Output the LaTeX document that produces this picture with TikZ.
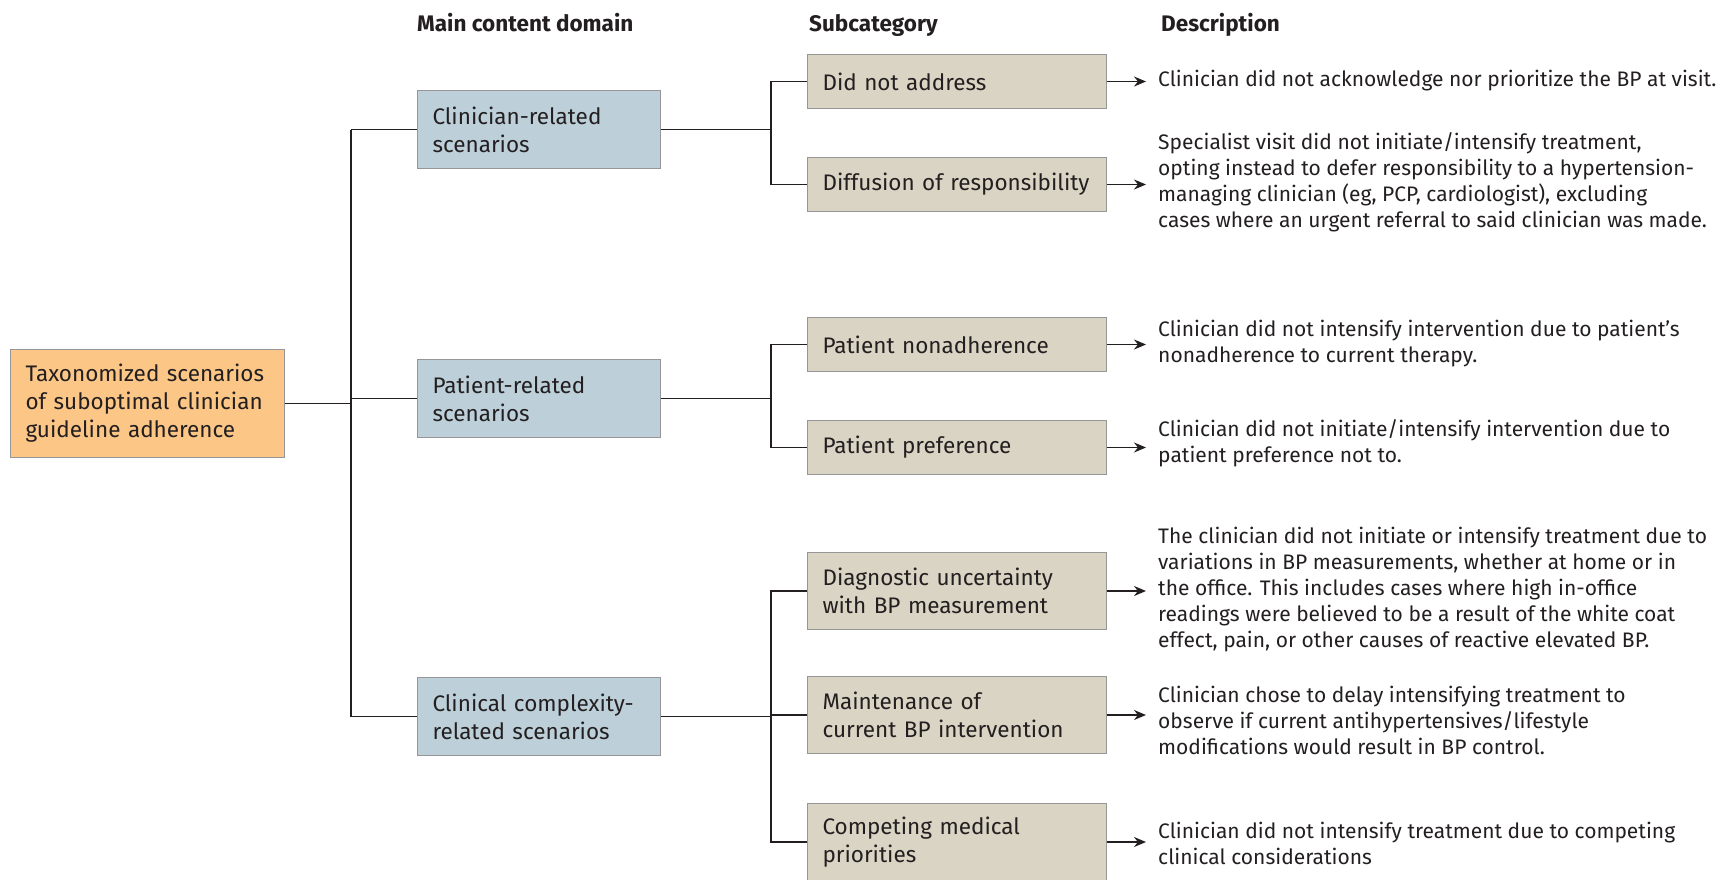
\documentclass[tikz,border=0pt]{standalone}
\usepackage{fontspec}
\setmainfont{Fira Sans}
\usetikzlibrary{arrows.meta}
\definecolor{rootfill}{RGB}{252,198,134}
\definecolor{domfill}{RGB}{189,208,217}
\definecolor{subfill}{RGB}{218,212,196}
\definecolor{edgegray}{RGB}{150,150,150}
\definecolor{ink}{RGB}{35,31,32}
\tikzset{
  box/.style={draw=edgegray, line width=1pt, anchor=north west, align=left,
    inner xsep=15pt, font=\fontsize{22.5}{28}\selectfont, text=ink},
  rootbox/.style={box, fill=rootfill, text width=244pt, minimum height=108pt},
  dombox/.style={box, fill=domfill, text width=213pt, minimum height=78pt},
  subbox/.style={box, fill=subfill, text width=269pt},
  desc/.style={anchor=west, align=left, inner xsep=12pt, inner ysep=0pt,
    font=\fontsize{21}{26}\selectfont, text=ink},
  head/.style={anchor=base west, inner sep=0pt, font=\fontsize{22.5}{26}\selectfont\bfseries, text=ink},
  link/.style={draw=ink, line width=1.7pt},
  arr/.style={link, -{Stealth[length=12pt,width=10pt]}}
}
\begin{document}
\begin{tikzpicture}[x=1pt,y=-1pt]
\useasboundingbox (0,0) rectangle (1721,879);

% column heads
\node[head] (h1) at (417,31) {Main content domain};
\node[head] (h2) at (809,31) {Subcategory};
\node[head] (h3) at (1161,31) {Description};

% boxes
\node[rootbox] (root) at (10,349) {Taxonomized scenarios\\of suboptimal clinician\\guideline adherence};

\node[dombox] (dom1) at (417,90) {Clinician-related\\scenarios};
\node[dombox] (dom2) at (417,359) {Patient-related\\scenarios};
\node[dombox] (dom3) at (417,677) {Clinical complexity-\\related scenarios};

\node[subbox, minimum height=54pt] (sub1) at (807,54) {Did not address};
\node[subbox, minimum height=54pt] (sub2) at (807,157) {Diffusion of responsibility};
\node[subbox, minimum height=54pt] (sub3) at (807,317) {Patient nonadherence};
\node[subbox, minimum height=54pt] (sub4) at (807,420) {Patient preference};
\node[subbox, minimum height=77pt] (sub5) at (807,552) {Diagnostic uncertainty\\with BP measurement};
\node[subbox, minimum height=77pt] (sub6) at (807,676) {Maintenance of\\current BP intervention};
\node[subbox, minimum height=77pt] (sub7) at (807,803) {Competing medical\\priorities};

% descriptions
\node[desc] (d1) at (1146,81) {Clinician did not acknowledge nor prioritize the BP at visit.};
\node[desc] (d2) at (1146,182) {Specialist visit did not initiate/intensify treatment,\\opting instead to defer responsibility to a hypertension-\\managing clinician (eg, PCP, cardiologist), excluding\\cases where an urgent referral to said clinician was made.};
\node[desc] (d3) at (1146,344) {Clinician did not intensify intervention due to patient’s\\nonadherence to current therapy.};
\node[desc] (d4) at (1146,443) {Clinician did not initiate/intensify intervention due to\\patient preference not to.};
\node[desc] (d5) at (1146,590) {The clinician did not initiate or intensify treatment due to\\variations in BP measurements, whether at home or in\\the office. This includes cases where high in-office\\readings were believed to be a result of the white coat\\effect, pain, or other causes of reactive elevated BP.};
\node[desc] (d6) at (1146,720) {Clinician chose to delay intensifying treatment to\\observe if current antihypertensives/lifestyle\\modifications would result in BP control.};
\node[desc] (d7) at (1146,843) {Clinician did not intensify treatment due to competing\\clinical considerations};

% connectors
\coordinate (trunk) at (351,0);
\coordinate (fork) at (771,0);
\draw[link] (root.east) -- (root.east -| trunk);
\draw[link] (dom1.west -| trunk) -- (dom3.west -| trunk);
\foreach \d in {dom1,dom2,dom3}
  \draw[link] (\d.west -| trunk) -- (\d.west);

\draw[link] (dom1.east) -- (dom1.east -| fork);
\draw[link] (sub1.west) -- (sub1.west -| fork) -- (sub2.west -| fork) -- (sub2.west);
\draw[link] (dom2.east) -- (dom2.east -| fork);
\draw[link] (sub3.west) -- (sub3.west -| fork) -- (sub4.west -| fork) -- (sub4.west);
\draw[link] (dom3.east) -- (dom3.east -| fork);
\draw[link] (sub5.west) -- (sub5.west -| fork) -- (sub7.west -| fork) -- (sub7.west);
\draw[link] (sub6.west -| fork) -- (sub6.west);

\foreach \i in {1,...,7}
  \draw[arr] (sub\i.east) -- (sub\i.east -| d\i.west);
\end{tikzpicture}
\end{document}
